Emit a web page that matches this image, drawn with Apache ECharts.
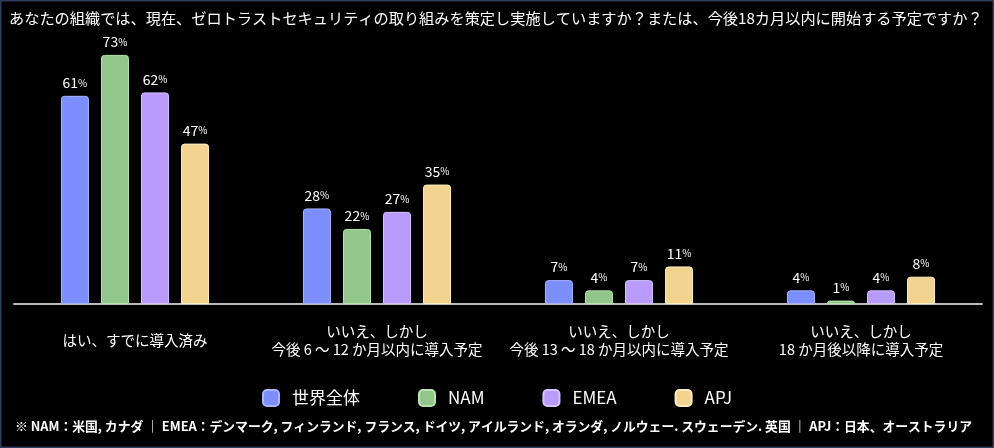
<!DOCTYPE html>
<html><head><meta charset="utf-8">
<script src="https://cdn.jsdelivr.net/npm/echarts@6/dist/echarts.min.js"></script>
<style>html,body{margin:0;padding:0;background:#000;}#c{width:994px;height:448px;}</style>
</head><body><div id="c"></div>
<script>
const titleText = 'あなたの組織では、現在、ゼロトラストセキュリティの取り組みを策定し実施していますか？または、今後18カ月以内に開始する予定ですか？';
const categories = ['はい、すでに導入済み', 'いいえ、しかし\n今後 6 ～ 12 か月以内に導入予定', 'いいえ、しかし\n今後 13 ～ 18 か月以内に導入予定', 'いいえ、しかし\n18 か月後以降に導入予定'];
const seriesNames = ['世界全体', 'NAM', 'EMEA', 'APJ'];
const globalVals = [61, 28, 7, 4];
const namVals = [73, 22, 4, 1];
const emeaVals = [62, 27, 7, 4];
const apjVals = [47, 35, 11, 8];
const footnote = '※ NAM：米国, カナダ ｜ EMEA：デンマーク, フィンランド, フランス, ドイツ, アイルランド, オランダ, ノルウェー. スウェーデン. 英国 ｜ APJ：日本、オーストラリア';

const colors = ['#7b8efc', '#93c68b', '#b89bfb', '#f2d390'];
const borders = ['#a9b5ff', '#b9e4b0', '#d6c4ff', '#fff0c0'];
const allVals = [globalVals, namVals, emeaVals, apjVals];
const FONT = '"Noto Sans CJK JP", "Noto Sans", sans-serif';

const chart = echarts.init(document.getElementById('c'));
chart.setOption({
  backgroundColor: '#000',
  textStyle: { fontFamily: FONT },
  title: { text: titleText, left: 4, top: 6, textStyle: { color: '#fff', fontSize: 15.2, fontWeight: 'normal', fontFamily: FONT } },
  legend: {
    data: seriesNames, bottom: 36, left: 'center', itemGap: 58, itemWidth: 16, itemHeight: 16,
    icon: 'roundRect', textStyle: { color: '#fff', fontSize: 17, padding: [0, 0, 0, 8] }
  },
  grid: { left: 14, right: 12, top: 31, bottom: 144 },
  xAxis: {
    type: 'category', data: categories,
    axisLine: { lineStyle: { color: '#bbbbbb', width: 2 } },
    axisTick: { show: false },
    axisLabel: { color: '#fff', fontSize: 14.5, lineHeight: 18, margin: 36, verticalAlign: 'middle', interval: 0 }
  },
  yAxis: { type: 'value', min: 0, max: 80, show: false, splitLine: { show: false } },
  series: seriesNames.map((n, i) => ({
    name: n, type: 'bar', data: allVals[i], barWidth: 28, barGap: '43%',
    itemStyle: { color: colors[i], borderColor: borders[i], borderWidth: 1, borderRadius: [3, 3, 0, 0] },
    label: {
      show: true, position: 'top', distance: 6,
      formatter: p => '{n|' + p.value + '}{p|%}',
      rich: { n: { color: '#fff', fontSize: 14, fontFamily: FONT }, p: { color: '#fff', fontSize: 10, fontFamily: FONT } }
    }
  })),
  graphic: [
    { type: 'rect', shape: { x: 0.5, y: 0.5, width: 993, height: 447 }, style: { fill: 'none', stroke: '#2d3d5c', lineWidth: 2 }, silent: true },
    { type: 'text', left: 15, top: 420, style: { text: footnote, fill: '#fff', font: 'bold 12.8px ' + FONT } }
  ]
});
</script></body></html>
